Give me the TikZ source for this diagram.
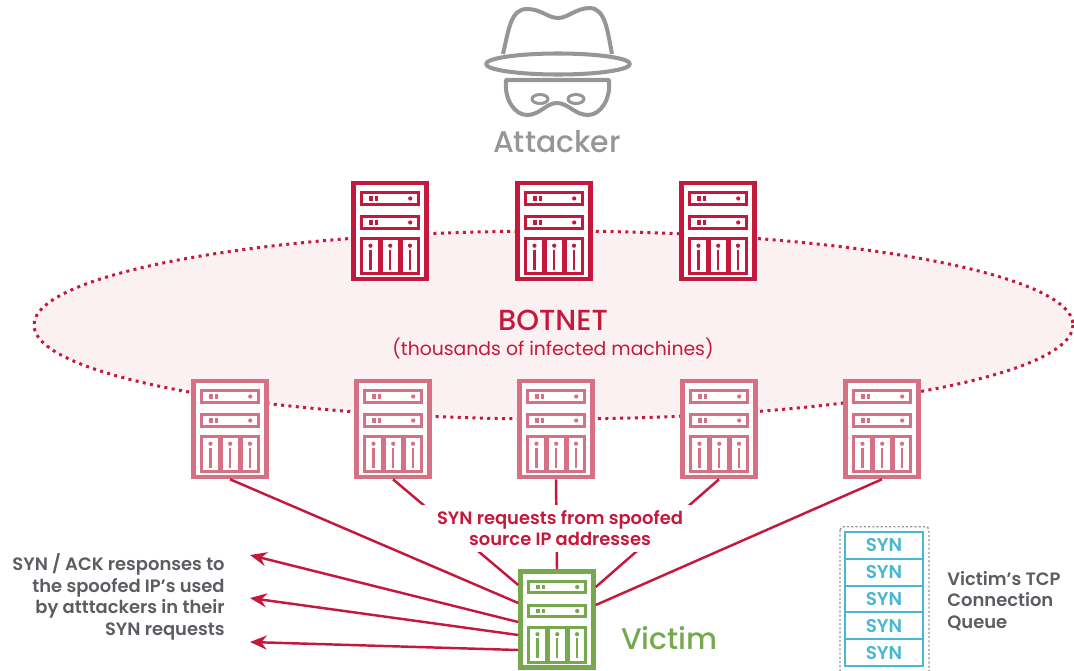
\documentclass[tikz,border=0pt]{standalone}
\usepackage{fontspec}
\setmainfont{Poppins}[BoldFont={Poppins SemiBold}]
\newfontfamily\medium{Poppins Medium}
\usetikzlibrary{positioning,calc,arrows.meta}

\definecolor{botred}{RGB}{196,24,60}
\definecolor{botpink}{RGB}{214,112,132}
\definecolor{netfill}{RGB}{251,241,243}
\definecolor{vicgreen}{RGB}{118,168,78}
\definecolor{quecyan}{RGB}{72,184,210}
\definecolor{hatgray}{RGB}{150,150,152}
\definecolor{txtgray}{RGB}{92,92,98}

\tikzset{
  server/.style={draw=#1, line width=2.6pt, fill=white,
    minimum width=1.46cm, minimum height=1.92cm, inner sep=0pt},
  link/.style={botred, line width=1.4pt},
  arr/.style={link, -{Stealth[length=9.5pt, width=8pt]}},
  lbl/.style={font=\bfseries\fontsize{10.2}{12.2}\selectfont, inner sep=0pt},
  synbox/.style={draw=quecyan, line width=1.1pt, text=quecyan,
    minimum width=1.56cm, minimum height=0.538cm, inner sep=0pt, outer sep=0pt,
    font=\bfseries\fontsize{10.5}{11}\selectfont},
}

% rack icon: frame, two drawers, three bays
% #1 name, #2 colour, #3 centre
\newcommand{\rack}[3]{%
  \node[server=#2] (#1) at (#3) {};
  \begin{scope}[shift={(#1.north west)}, #2]
    \foreach \t in {12,36}{
      \draw[line width=1.5pt] (10.5,\t) rectangle (67.5,\t+11.5);
      \fill (18,\t+3.5) rectangle (21.5,\t+8);
      \fill (23.5,\t+3.5) rectangle (27,\t+8);
      \fill (59,\t+5.75) circle (1.2pt);
    }
    \foreach \a/\b in {10.5/28, 30/48, 50/67.5}{
      \draw[line width=1.5pt] (\a,58) rectangle (\b,93);
      \fill ({(\a+\b)/2},65) circle (1.2pt);
      \draw[line width=1.2pt] ({(\a+\b)/2},69) -- ({(\a+\b)/2},89);
    }
  \end{scope}}

\begin{document}
\begin{tikzpicture}[x={(0.02cm,0cm)}, y={(0cm,-0.02cm)}]
  \useasboundingbox (0,0) rectangle (1074,670);

  % attacker: hat and mask
  \begin{scope}[hatgray, line width=2.3pt, line join=round]
    \draw (503,54) .. controls (509,28) and (511,9) .. (527,9)
      .. controls (541,9) and (548,18) .. (558,18)
      .. controls (568,18) and (576,8) .. (590,8)
      .. controls (605,9) and (607,28) .. (612,54);
    \draw (558,64) ellipse [x radius=72, y radius=10.5];
    \draw (506,80) -- (609,80) .. controls (611,100) and (600,115) .. (588,115)
      .. controls (575,115) and (568,103) .. (557,103)
      .. controls (546,103) and (540,115) .. (527,115)
      .. controls (515,115) and (504,100) .. cycle;
    \draw[line width=1.7pt] (540,99) ellipse [x radius=8, y radius=4.5];
    \draw[line width=1.7pt] (576,99) ellipse [x radius=8, y radius=4.5];
  \end{scope}
  \node[hatgray, font=\medium\fontsize{17}{19}\selectfont] (attacker) at (557,142) {Attacker};

  % botnet cloud
  \fill[netfill] (553.5,325) ellipse [x radius=519.5, y radius=94];
  \draw[botred, line width=1.7pt, dash pattern=on 1.7pt off 2.5pt]
    (553.5,325) ellipse [x radius=519.5, y radius=94];
  \node[botred, font=\medium\fontsize{16.5}{19}\selectfont] (botnet) at (553,320) {BOTNET};
  \node[botred, font=\fontsize{10.7}{12}\selectfont] (infected) at (553,348)
    {(thousands of infected machines)};

  \rack{t1}{botred}{390,231}
  \rack{t2}{botred}{554,231}
  \rack{t3}{botred}{718,231}

  \rack{b1}{botpink}{230,429}
  \rack{b2}{botpink}{393,429}
  \rack{b3}{botpink}{556,429}
  \rack{b4}{botpink}{719,429}
  \rack{b5}{botpink}{882,429}

  % victim
  \rack{victim}{vicgreen}{557,619.5}
  \node[vicgreen, font=\medium\fontsize{17}{19}\selectfont, anchor=west] (vlabel) at (615,638) {Victim};

  % spoofed SYN requests
  \draw[link] (b1.south) -- ($(victim.west)+(0,-16.5)$);
  \draw[link] (b2.south) -- ($(victim.west)+(0,-34.5)$);
  \draw[link] (b3.south) -- (victim.north);
  \draw[link] (b4.south) -- ($(victim.east)+(0,-32.5)$);
  \draw[link] (b5.south) -- ($(victim.east)+(0,-14.5)$);
  \node[lbl, botred, fill=white, align=center, minimum width=5.6cm, minimum height=0.94cm]
    (spoof) at (560,528) {SYN requests from spoofed\\source IP addresses};

  % SYN/ACK replies
  \coordinate (r1) at (250,555);
  \coordinate (r2) at (250,598);
  \coordinate (r3) at (250,642);
  \draw[arr] ($(victim.west)+(0,2.5)$) -- (r1);
  \draw[arr] ($(victim.west)+(0,15.5)$) -- (r2);
  \draw[arr] ($(victim.west)+(0,30.5)$) -- (r3);
  \node[lbl, txtgray, align=right, anchor=east] (resp) at (225,597)
    {SYN / ACK responses to\\the spoofed IP’s used\\by atttackers in their\\SYN requests};

  % connection queue
  \node[synbox] (q1) at (884,545.2) {SYN};
  \foreach \i [count=\j from 2] in {1,...,4}
    \node[synbox, below=0pt of q\i] (q\j) {SYN};
  \draw[hatgray, line width=0.8pt, dash pattern=on 1.2pt off 1.2pt, rounded corners=2pt]
    ($(q1.north west)+(-5,-5)$) rectangle ($(q5.south east)+(6,8)$);
  \node[lbl, txtgray, align=left, anchor=west] (qlabel) at (947,601)
    {Victim’s TCP\\Connection\\Queue};
\end{tikzpicture}
\end{document}
